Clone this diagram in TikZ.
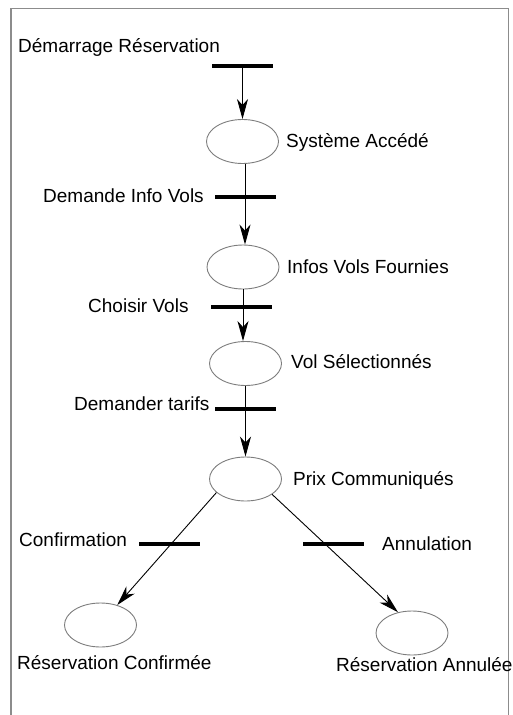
\documentclass[tikz,border=0pt]{standalone}
\usepackage{fontspec}
\setmainfont{Liberation Sans}
\usetikzlibrary{arrows.meta,shapes.geometric}

\definecolor{framegray}{RGB}{140,140,140}
\definecolor{placegray}{RGB}{125,125,125}

\tikzset{
  place/.style={ellipse, draw=placegray, line width=0.9pt,
    minimum width=72pt, minimum height=44pt, inner sep=0pt},
  transbar/.style={rectangle, fill=black, minimum width=61pt,
    minimum height=4.5pt, inner sep=0pt},
  lbl/.style={anchor=base west, inner sep=0pt,
    font=\fontsize{19}{22}\selectfont},
  flow/.style={-{Stealth[length=20pt,width=11pt,inset=6pt]}, line width=0.9pt},
  frameline/.style={draw=framegray, line width=1.6pt}
}

\begin{document}
\begin{tikzpicture}[x=1pt,y=-1pt]
\useasboundingbox (0,0) rectangle (513,715);

% open frame (no bottom edge)
\draw[frameline] (11,716) -- (11,8.3) -- (508.5,8.3) -- (508.5,716);

% places
\node[place] (e1) at (242.5,141.5) {};
\node[place] (e2) at (243,267) {};
\node[place] (e3) at (245.5,363.5) {};
\node[place] (e4) at (245.5,479) {};
\node[place] (e5) at (100.5,625) {};
\node[place] (e6) at (412,633) {};

% transitions
\node[transbar] (b1) at (242.5,66) {};
\node[transbar] (b2) at (245,197) {};
\node[transbar] (b3) at (241.5,307) {};
\node[transbar] (b4) at (245,409) {};
\node[transbar] (b5) at (169,544) {};
\node[transbar] (b6) at (333,544) {};

% arcs
\draw[flow] (b1.center) -- (e1.north);
\draw[flow] (e1.south -| b2.center) -- (e2.north -| b2.center);
\draw[flow] (e2.south) -- (e3.north -| e2.south);
\draw[flow] (e3.south) -- (e4.north);
\draw[flow] (e4.205) -- (e5.50);
\draw[flow] (e4.330) -- (e6.124);

% labels
\node[lbl] (t0) at (18,52) {Démarrage Réservation};
\node[lbl] (t1) at (286,147.7) {Système Accédé};
\node[lbl] (t2) at (43,202) {Demande Info Vols};
\node[lbl] (t3) at (287,273) {Infos Vols Fournies};
\node[lbl] (t4) at (88,312) {Choisir Vols};
\node[lbl] (t5) at (291,368) {Vol Sélectionnés};
\node[lbl] (t6) at (74,410) {Demander tarifs};
\node[lbl] (t7) at (293,485) {Prix Communiqués};
\node[lbl] (t8) at (19,546.5) {Confirmation};
\node[lbl] (t9) at (382,550) {Annulation};
\node[lbl] (t10) at (17,669) {Réservation Confirmée};
\node[lbl] (t11) at (336,671) {Réservation Annulée};
\end{tikzpicture}
\end{document}
